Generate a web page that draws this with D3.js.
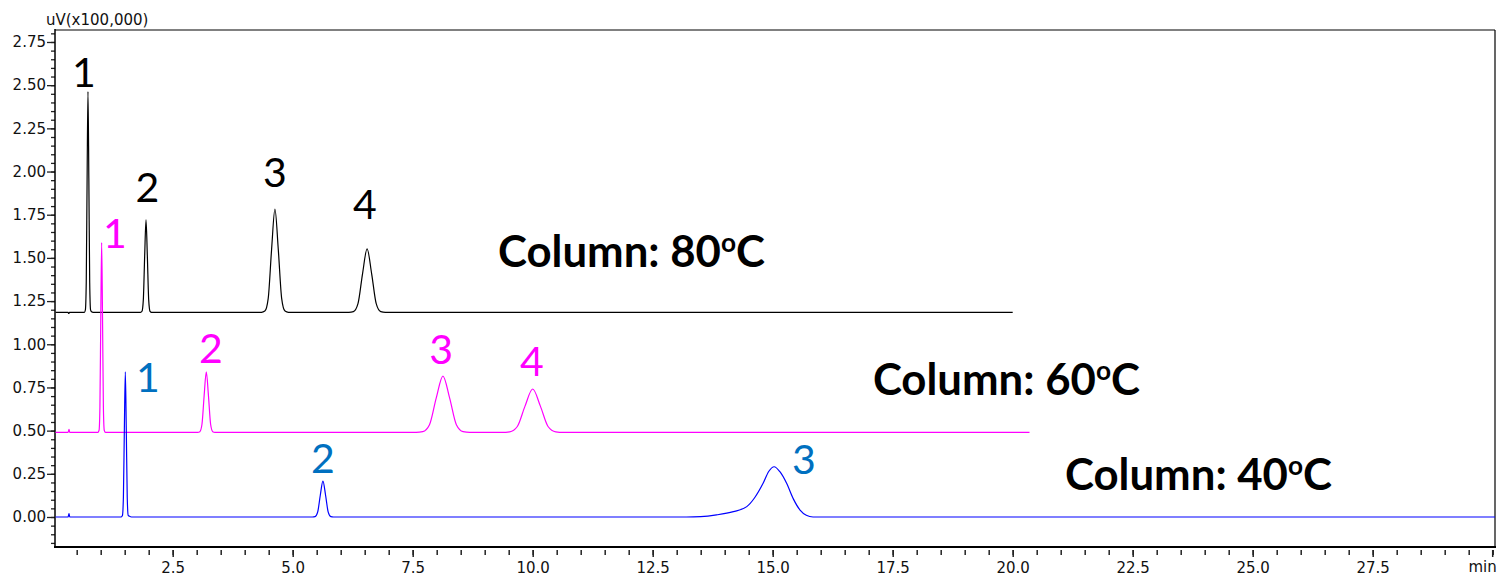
<!DOCTYPE html>
<html>
<head>
<meta charset="utf-8">
<script src="https://cdn.jsdelivr.net/npm/d3@7"></script>
<style>
  html, body { margin: 0; padding: 0; background: #fff; }
  svg { display: block; }
</style>
</head>
<body>
<svg id="chart" width="1499" height="576"></svg>
<script>
// ---------------- DATA ----------------
// time (min), signal (uV x100,000)
const trace80 = [
  [0.06,1.185],[0.32,1.185],[0.335,1.178],[0.35,1.185],
  [0.66,1.185],[0.681,1.199],[0.699,1.358],[0.717,1.961],[0.735,2.463],[0.753,1.961],[0.771,1.358],[0.789,1.199],[0.81,1.188],[0.84,1.185],
  [1.83,1.185],[1.86,1.191],[1.888,1.257],[1.916,1.510],[1.944,1.720],[1.972,1.510],[2.0,1.257],[2.028,1.191],[2.06,1.185],
  [4.35,1.185],[4.42,1.192],[4.49,1.266],[4.56,1.548],[4.63,1.783],[4.70,1.548],[4.77,1.266],[4.84,1.192],[4.91,1.185],
  [6.17,1.185],[6.265,1.189],[6.36,1.235],[6.455,1.408],[6.55,1.552],[6.645,1.408],[6.74,1.235],[6.835,1.189],[6.93,1.185],
  [20.0,1.185]
];
const trace60 = [
  [0.06,0.49],[0.32,0.49],[0.34,0.508],[0.355,0.49],
  [0.94,0.49],[0.966,0.502],[0.984,0.638],[1.002,1.156],[1.02,1.588],[1.038,1.156],[1.056,0.638],[1.074,0.502],[1.10,0.49],
  [3.02,0.49],[3.065,0.494],[3.11,0.537],[3.155,0.702],[3.2,0.84],[3.245,0.702],[3.29,0.537],[3.335,0.494],[3.38,0.49],
  [7.57,0.49],[7.71,0.494],[7.85,0.534],[7.99,0.688],[8.13,0.816],[8.27,0.688],[8.41,0.534],[8.55,0.494],[8.69,0.49],
  [9.36,0.49],[9.52,0.493],[9.68,0.524],[9.84,0.642],[10.0,0.741],[10.16,0.642],[10.32,0.524],[10.48,0.493],[10.64,0.49],
  [20.35,0.49]
];
const trace40 = [
  [0.06,0],[0.32,0],[0.34,0.02],[0.355,0],
  [1.42,0],[1.453,0.009],[1.473,0.114],[1.493,0.51],[1.513,0.841],[1.533,0.51],[1.553,0.114],[1.573,0.009],[1.60,0.004],[1.64,0],
  [5.41,0],[5.465,0.002],[5.52,0.028],[5.575,0.126],[5.63,0.208],[5.685,0.126],[5.74,0.028],[5.795,0.002],[5.85,0],
  [13.2,0],[13.5,0.002],[13.83,0.012],[14.18,0.031],[14.46,0.06],[14.62,0.11],[14.8,0.195],[14.92,0.265],[15.03,0.291],
  [15.15,0.262],[15.29,0.195],[15.43,0.105],[15.57,0.04],[15.7,0.01],[15.84,0.0],
  [30.048,0]
];

// peak number annotations: [label, time, signal]
const peaks80 = [["1",0.652,2.490],["2",1.971,1.824],["3",4.631,1.911],["4",6.506,1.725]];
const peaks60 = [["1",1.298,1.558],["2",3.298,0.892],["3",8.090,0.886],["4",9.985,0.816]];
const peaks40 = [["1",1.985,0.724],["2",5.631,0.255],["3",15.652,0.249]];

// column temperature annotations: [temperature, time, signal]
const columnLabels = [["80",9.277,1.447],["60",17.088,0.706],["40",21.090,0.156]];

// axis ticks
const xMajorTicks = [2.5,5.0,7.5,10.0,12.5,15.0,17.5,20.0,22.5,25.0,27.5];
const xMinorTicks = d3.range(1, 61).map(i => i * 0.5);
const yMajorTicks = [0,0.25,0.5,0.75,1.0,1.25,1.5,1.75,2.0,2.25,2.5,2.75];
const yMinorTicks = d3.range(-3, 57).map(i => +(i * 0.05).toFixed(2));
const yUnitLabel = "uV(x100,000)";
const xUnitLabel = "min";

// ---------------- STYLE ----------------
const traceColors = { t80: "#000000", t60: "#ff00ff", t40: "#0000ff" };
const labelColors = { t80: "#000000", t60: "#ff00ff", t40: "#0070c0" };
const columnTargetWidth = 267;

// ---------------- DRAW ----------------
const svg = d3.select("#chart");
const x = d3.scaleLinear().domain([0.048, 30.048]).range([55, 1495]);
const y = d3.scaleLinear().domain([-0.1737, 2.8194]).range([547, 30]);

const axisFont = "DejaVu Sans, sans-serif";

// minor ticks x
const gxMinor = svg.append("g").attr("transform", "translate(0,547)")
  .call(d3.axisBottom(x).tickValues(xMinorTicks).tickSize(8).tickFormat(""));
// major ticks x
const gx = svg.append("g").attr("transform", "translate(0,547)")
  .call(d3.axisBottom(x).tickValues(xMajorTicks).tickSize(10).tickPadding(5).tickFormat(d3.format(".1f")));
[gxMinor, gx].forEach(g => { g.select(".domain").remove(); g.selectAll("line").attr("stroke","#222").attr("stroke-width",1.5); });
gxMinor.selectAll("line").attr("y1", 3);
gx.selectAll("line").attr("y1", 3);
gx.selectAll("text").attr("font-family", axisFont).attr("font-size", 15).attr("fill", "#111");
// end tick at 30 with unit label
svg.append("line").attr("x1", x(30)).attr("x2", x(30)).attr("y1", 550).attr("y2", 557)
  .attr("stroke","#222").attr("stroke-width",1.5);
svg.append("text").attr("x", x(30) + 4).attr("y", 572).attr("text-anchor","end")
  .attr("font-family", axisFont).attr("font-size", 15).attr("fill","#111").text(xUnitLabel);

// y ticks
const gyMinor = svg.append("g").attr("transform", "translate(55,0)")
  .call(d3.axisLeft(y).tickValues(yMinorTicks).tickSize(4).tickFormat(""));
const gy = svg.append("g").attr("transform", "translate(55,0)")
  .call(d3.axisLeft(y).tickValues(yMajorTicks).tickSize(8).tickPadding(1).tickFormat(d3.format(".2f")));
[gyMinor, gy].forEach(g => { g.select(".domain").remove(); g.selectAll("line").attr("stroke","#222").attr("stroke-width",1.3); });
gy.selectAll("text").attr("font-family", axisFont).attr("font-size", 15).attr("fill", "#111");

// frame
svg.append("line").attr("x1",55).attr("x2",1495).attr("y1",30).attr("y2",30).attr("stroke","#808080").attr("stroke-width",2);
svg.append("line").attr("x1",1495).attr("x2",1495).attr("y1",30).attr("y2",547).attr("stroke","#000").attr("stroke-width",1.2);
svg.append("line").attr("x1",55).attr("x2",55).attr("y1",29).attr("y2",548).attr("stroke","#000").attr("stroke-width",1.5);
svg.append("line").attr("x1",54).attr("x2",1496).attr("y1",547).attr("y2",547).attr("stroke","#000").attr("stroke-width",1.8);

svg.append("text").attr("x", 46).attr("y", 25).attr("font-family", axisFont).attr("font-size", 15)
  .attr("fill","#111").text(yUnitLabel);

// traces
const line = d3.line().x(d => x(d[0])).y(d => y(d[1])).curve(d3.curveMonotoneX);
[[trace80,"t80"],[trace60,"t60"],[trace40,"t40"]].forEach(([data,key]) => {
  svg.append("path").datum(data).attr("d", line).attr("fill","none")
    .attr("stroke", traceColors[key]).attr("stroke-width", 1.2).attr("stroke-linejoin","round");
});

// peak numbers
[[peaks80,"t80"],[peaks60,"t60"],[peaks40,"t40"]].forEach(([data,key]) => {
  svg.selectAll(null).data(data).enter().append("text")
    .attr("x", d => x(d[1])).attr("y", d => y(d[2]))
    .attr("text-anchor","middle").attr("font-family","Lato, sans-serif").attr("font-size", 41)
    .attr("fill", labelColors[key]).text(d => d[0]);
});

// column labels
columnLabels.forEach(d => {
  const t = svg.append("text").attr("x", x(d[1])).attr("y", y(d[2]))
    .attr("font-family","Lato, sans-serif").attr("font-weight","bold").attr("font-size", 40).attr("fill","#000");
  t.append("tspan").text("Column: " + d[0]);
  t.append("tspan").attr("class","sup").attr("font-size", 24).attr("dy", -14).text("o");
  t.append("tspan").attr("class","after").attr("dy", 14).text("C");
  const w = t.node().getBBox().width;
  const s = 40 * columnTargetWidth / w;
  t.attr("font-size", s);
  t.select(".sup").attr("font-size", s * 0.6).attr("dy", -s * 0.35);
  t.select(".after").attr("dy", s * 0.35);
});
</script>
</body>
</html>
